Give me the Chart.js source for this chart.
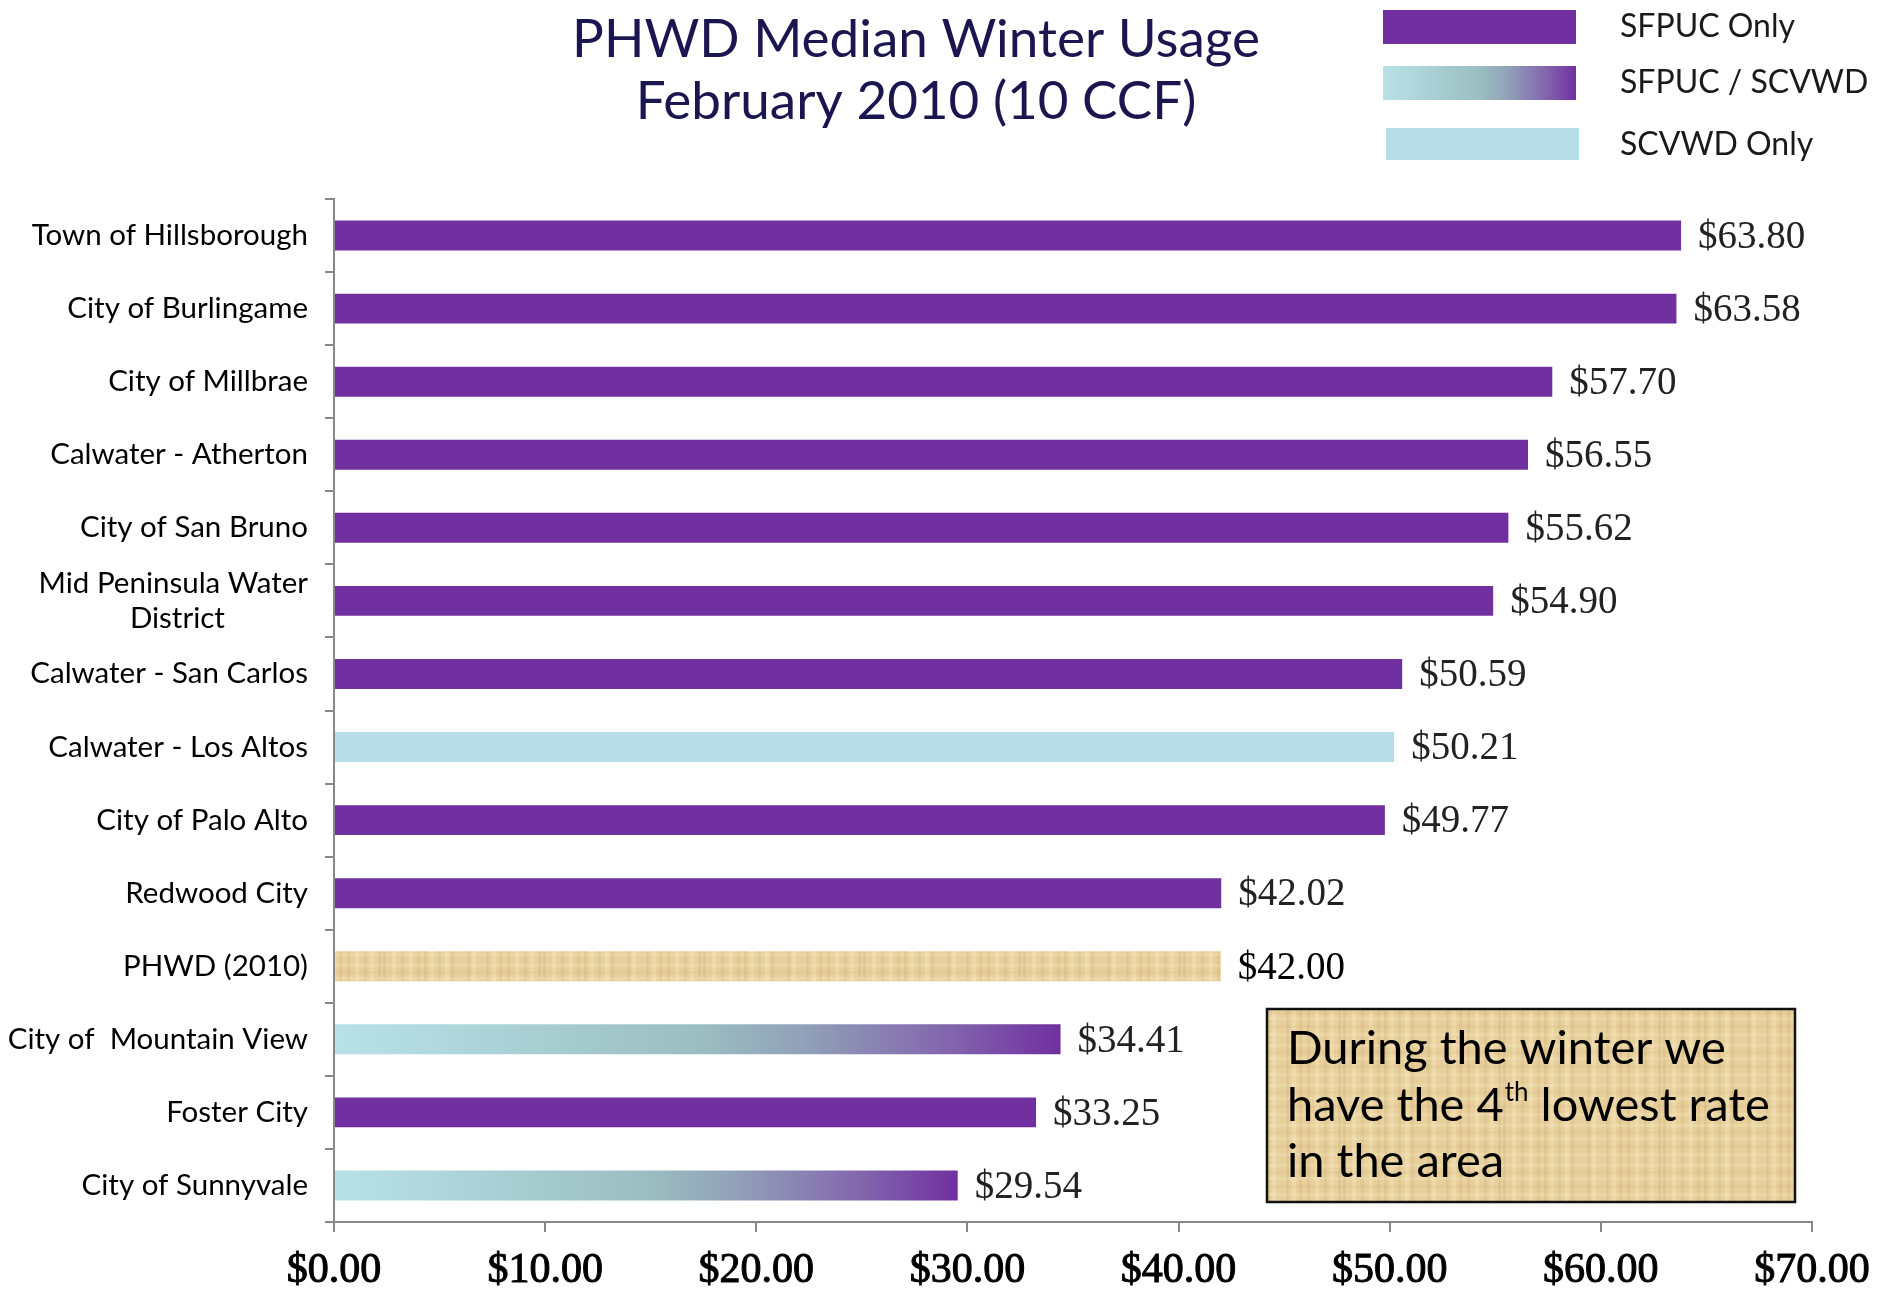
<!DOCTYPE html>
<html>
<head>
<meta charset="utf-8">
<script src="https://cdn.jsdelivr.net/npm/chart.js@4.4.0/dist/chart.umd.min.js"></script>
<style>
  html, body { margin: 0; padding: 0; background: #ffffff; }
  #wrap { width: 1892px; height: 1290px; position: relative; }
</style>
</head>
<body>
<div id="wrap"><canvas id="chartRates"></canvas></div>
<script>
// Monthly charge at PHWD median winter usage (10 CCF), February 2010
const categories = [
  "Town of Hillsborough",
  "City of Burlingame",
  "City of Millbrae",
  "Calwater - Atherton",
  "City of San Bruno",
  ["Mid Peninsula Water", "District           "],
  "Calwater - San Carlos",
  "Calwater - Los Altos",
  "City of Palo Alto",
  "Redwood City",
  "PHWD (2010)",
  "City of  Mountain View",
  "Foster City",
  "City of Sunnyvale",
];
const charges = [63.80, 63.58, 57.70, 56.55, 55.62, 54.90, 50.59, 50.21, 49.77, 42.02, 42.00, 34.41, 33.25, 29.54];
// water source of each agency
const supply = ["SFPUC", "SFPUC", "SFPUC", "SFPUC", "SFPUC", "SFPUC", "SFPUC", "SCVWD", "SFPUC", "SFPUC", "PHWD", "BOTH", "SFPUC", "BOTH"];
const xTicks = [0, 10, 20, 30, 40, 50, 60, 70];
const titleLines = ["PHWD Median Winter Usage", "February 2010 (10 CCF)"];
const legendLabels = ["SFPUC Only", "SFPUC / SCVWD", "SCVWD Only"];

const PURPLE = "#7030a0";
const LIGHT_BLUE = "#b7dde8";
const AXIS_GREY = "#888888";

// papyrus-like texture for the PHWD bar and the note box
function makePapyrus() {
  const c = document.createElement("canvas");
  c.width = 160;
  c.height = 40;
  const g = c.getContext("2d");
  g.fillStyle = "#e8d09c";
  g.fillRect(0, 0, 160, 40);
  const darkCols = [6, 19, 27, 44, 58, 63, 81, 97, 104, 118, 131, 147];
  darkCols.forEach(function (x, i) {
    g.fillStyle = i % 2 ? "rgba(196,166,108,0.22)" : "rgba(180,150,96,0.16)";
    g.fillRect(x, 0, 3, 40);
  });
  const lightCols = [12, 35, 50, 72, 89, 110, 125, 152];
  lightCols.forEach(function (x) {
    g.fillStyle = "rgba(248,234,200,0.35)";
    g.fillRect(x, 0, 4, 40);
  });
  const rows = [4, 11, 17, 25, 33];
  rows.forEach(function (y, i) {
    g.fillStyle = i % 2 ? "rgba(200,170,110,0.14)" : "rgba(248,234,200,0.25)";
    g.fillRect(0, y, 160, 3);
  });
  return c;
}
const papyrusCanvas = makePapyrus();

function mixedGradient(ctx, x0, x1) {
  const grad = ctx.createLinearGradient(x0, 0, x1, 0);
  grad.addColorStop(0, "#b8e2e8");
  grad.addColorStop(0.5, "#9bbec1");
  grad.addColorStop(0.64, "#92a3b9");
  grad.addColorStop(0.85, "#8264ad");
  grad.addColorStop(1, "#7030a0");
  return grad;
}

// title, legend and note box
const decorPlugin = {
  id: "decor",
  afterDraw(chart) {
    const ctx = chart.ctx;
    ctx.save();

    // title
    ctx.fillStyle = "#1b1650";
    ctx.font = "53px Lato";
    ctx.textAlign = "center";
    ctx.textBaseline = "alphabetic";
    ctx.fillText(titleLines[0], 916, 57);
    ctx.fillText(titleLines[1], 916, 119);

    // legend
    const boxes = [
      { x: 1383, y: 10, h: 34, fill: PURPLE },
      { x: 1383, y: 66, h: 34, fill: mixedGradient(ctx, 1383, 1576) },
      { x: 1386, y: 128, h: 32, fill: LIGHT_BLUE },
    ];
    ctx.font = "32px Lato";
    ctx.textAlign = "left";
    ctx.textBaseline = "middle";
    boxes.forEach(function (b, i) {
      ctx.fillStyle = b.fill;
      ctx.fillRect(b.x, b.y, 193, b.h);
      ctx.fillStyle = "#1a1a1a";
      ctx.fillText(legendLabels[i], 1620, b.y + 17);
    });

    // note box
    ctx.fillStyle = ctx.createPattern(papyrusCanvas, "repeat");
    ctx.fillRect(1267, 1009, 528, 193);
    ctx.strokeStyle = "#111111";
    ctx.lineWidth = 2.5;
    ctx.strokeRect(1267, 1009, 528, 193);
    ctx.fillStyle = "#000000";
    ctx.textBaseline = "alphabetic";
    ctx.font = "47px Lato";
    ctx.fillText("During the winter we", 1287, 1064);
    let x = 1287;
    ctx.fillText("have the 4", x, 1121);
    x += ctx.measureText("have the 4").width;
    ctx.font = "26px Lato";
    ctx.fillText("th", x + 1, 1101);
    x += ctx.measureText("th").width + 1;
    ctx.font = "47px Lato";
    ctx.fillText(" lowest rate", x, 1121);
    ctx.fillText("in the area", 1287, 1177);
    ctx.restore();
  },
};

// dollar value at the end of each bar
const valueLabelPlugin = {
  id: "valueLabels",
  afterDatasetsDraw(chart) {
    const ctx = chart.ctx;
    const meta = chart.getDatasetMeta(0);
    ctx.save();
    ctx.font = "39px 'Liberation Serif'";
    ctx.textAlign = "left";
    ctx.textBaseline = "middle";
    meta.data.forEach(function (bar, i) {
      ctx.fillStyle = supply[i] === "PHWD" ? "#000000" : "#222222";
      ctx.fillText("$" + charges[i].toFixed(2), bar.x + 17, bar.y + 2);
    });
    ctx.restore();
  },
};

const ratesCtx = document.getElementById("chartRates").getContext("2d");
const chartRates = new Chart(ratesCtx, {
  type: "bar",
  data: {
    labels: categories,
    datasets: [
      {
        data: charges,
        backgroundColor: function (context) {
          const kind = supply[context.dataIndex];
          if (kind === "SFPUC") return PURPLE;
          if (kind === "SCVWD") return LIGHT_BLUE;
          if (kind === "PHWD") return context.chart.ctx.createPattern(papyrusCanvas, "repeat");
          const xScale = context.chart.scales.x;
          if (!xScale || !isFinite(xScale.getPixelForValue(0))) return PURPLE;
          const x0 = xScale.getPixelForValue(0);
          const x1 = xScale.getPixelForValue(charges[context.dataIndex]);
          return mixedGradient(context.chart.ctx, x0, x1);
        },
        borderWidth: 0,
        barPercentage: 0.41,
        categoryPercentage: 1,
      },
    ],
  },
  options: {
    indexAxis: "y",
    responsive: true,
    maintainAspectRatio: false,
    animation: false,
    layout: {
      padding: { top: 199, right: 80, bottom: 0, left: 0 },
    },
    scales: {
      x: {
        min: 0,
        max: 70,
        afterFit: function (scale) {
          scale.height = 68;
        },
        afterBuildTicks: function (scale) {
          scale.ticks = xTicks.map(function (v) {
            return { value: v };
          });
        },
        ticks: {
          padding: 14,
          color: "#000000",
          textStrokeColor: "#000000",
          textStrokeWidth: 1,
          font: { family: "Liberation Serif", size: 42 },
          callback: function (value) {
            return "$" + Number(value).toFixed(2);
          },
        },
        grid: {
          drawOnChartArea: false,
          drawTicks: true,
          tickLength: 10,
          color: AXIS_GREY,
          lineWidth: 2,
        },
        border: { color: AXIS_GREY, width: 2 },
      },
      y: {
        afterFit: function (scale) {
          scale.width = 334;
        },
        ticks: {
          autoSkip: false,
          padding: 17,
          color: "#000000",
          font: { family: "Lato", size: 29.5 },
        },
        grid: {
          drawOnChartArea: false,
          drawTicks: true,
          tickLength: 9,
          color: AXIS_GREY,
          lineWidth: 2,
        },
        border: { color: AXIS_GREY, width: 2 },
      },
    },
    plugins: {
      legend: { display: false },
      tooltip: { enabled: false },
    },
  },
  plugins: [valueLabelPlugin, decorPlugin],
});
</script>
</body>
</html>
